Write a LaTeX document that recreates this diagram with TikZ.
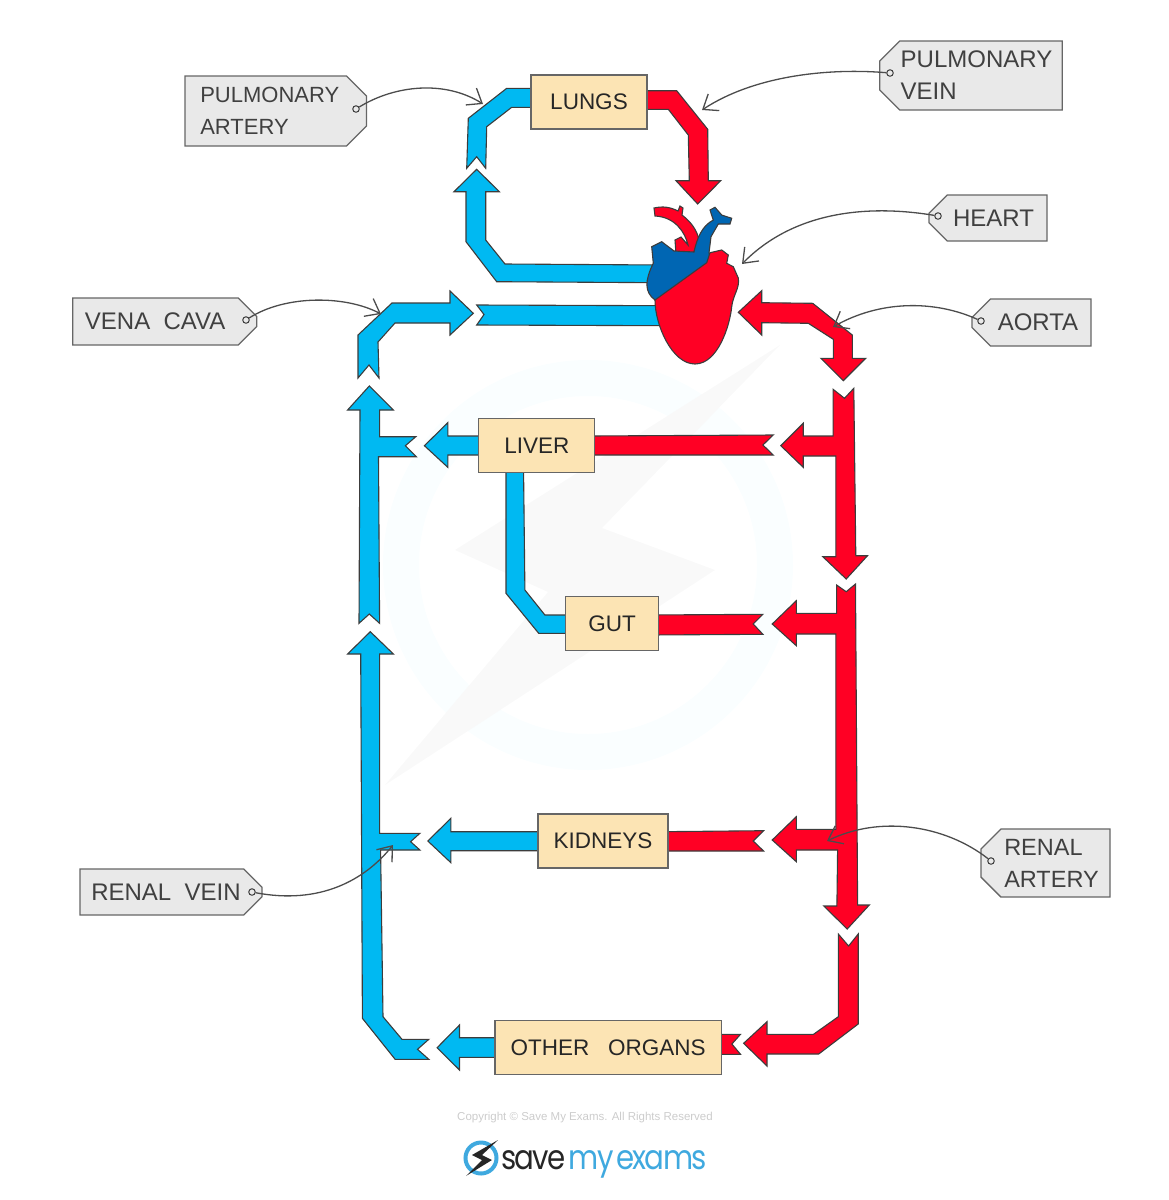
\documentclass[tikz,border=0pt]{standalone}
\usepackage{fontspec}
\setmainfont{Liberation Sans}
\newfontfamily\logofont{Poppins}
\usetikzlibrary{arrows.meta,shapes.misc}
\definecolor{vesselblue}{HTML}{00B9F2}
\definecolor{vesselred}{HTML}{FF0024}
\definecolor{heartblue}{HTML}{0066B3}
\definecolor{organfill}{HTML}{FCE4B4}
\definecolor{tagfill}{HTML}{E9E9E9}
\definecolor{inkgrey}{HTML}{3C3C3C}
\definecolor{logoblue}{HTML}{3FA9DF}
\tikzset{
    vessel/.style={draw=inkgrey, line width=1.1pt, line join=miter},
    bluevessel/.style={vessel, fill=vesselblue},
    redvessel/.style={vessel, fill=vesselred},
    organ/.style={draw=black!60, line width=1.3pt, fill=organfill, inner sep=0pt,
            font=\fontsize{22.5}{32}\selectfont, text=black!85},
    tagbox/.style={chamfered rectangle, chamfered rectangle xsep=10pt, chamfered rectangle ysep=10pt,
            draw=black!60, line width=1.3pt, fill=tagfill, inner sep=0pt, align=left,
            font=\fontsize{24}{32}\selectfont, text=black!75},
    tagL/.style={tagbox, chamfered rectangle corners={north west,south west}},
    tagR/.style={tagbox, chamfered rectangle corners={north east,south east}},
    hole/.style={circle, draw=inkgrey, line width=1pt, minimum size=6.5pt, inner sep=0pt},
    pointer/.style={draw=black!70, line width=1.3pt, -{Straight Barb[length=13pt,width=20pt,line width=1.3pt]}}
}
\begin{document}
\begin{tikzpicture}[x=1pt,y=-1pt]
    \useasboundingbox (0,0) rectangle (1168,1200);
    % Watermark
    \draw[line width=36pt, color=blue!20!cyan!2] (588,565) circle (187);
    \fill[black!2.5] (780,345) -- (602,528) -- (715,570) -- (385,785) -- (548,592) -- (455,550) -- cycle;
    % Lungs loop
    \draw[bluevessel] (531,88.3) -- (506.7,88.3) -- (468.3,118.3) -- (466.7,168.3) -- (476.7,156.7) -- (485.7,168.3)
        -- (486.7,126.7) -- (511.7,107.3) -- (531,107.3) -- cycle;
    \draw[bluevessel] (476.7,169.3) -- (499.3,191.7) -- (485.7,191.7) -- (485.7,240) -- (505,264) -- (660,265)
        -- (660,282.7) -- (496.7,281.7) -- (466,241.7) -- (466,191.7) -- (454,191.7) -- cycle;
    \draw[redvessel] (647.3,90.7) -- (676.7,90.7) -- (707.7,129.3) -- (708.3,180.7) -- (720.7,180.7) -- (697.7,204)
        -- (676,180.7) -- (689.3,180.7) -- (688.3,135) -- (668.3,109.3) -- (647.3,109.3) -- cycle;
    % Vena cava
    \draw[bluevessel] (476.7,305) -- (665,305.7) -- (665,325.7) -- (476.7,325) -- (484,314.5) -- cycle;
    \draw[bluevessel] (473.3,313.3) -- (450,335) -- (450,323) -- (395,323) -- (378,342) -- (379,378) -- (369,365)
        -- (358,378) -- (358,335) -- (392,303) -- (450,303) -- (450,291) -- cycle;
    % Aorta
    \draw[redvessel] (738.3,312.3) -- (761.7,290.7) -- (761.7,302.7) -- (812.7,303.3) -- (852.3,335) -- (852.3,358.3)
        -- (865.7,358.3) -- (843.3,380.7) -- (821,358.3) -- (833.3,358.3) -- (833.3,339.3) -- (808.3,323.3)
        -- (761.7,322.7) -- (761.7,335) -- cycle;
    % Heart
    \draw[redvessel] (654,208) .. controls (663,206) and (670,207) .. (678,211) -- (680,206) -- (683,208) -- (682,215)
        .. controls (691,222) and (697,230) .. (699,240) -- (693,254) -- (676,254) -- (675,240) -- (681,237) -- (688,245)
        .. controls (685,232) and (675,217) .. (655,216) -- cycle;
    \draw[vessel, fill=heartblue] (655,300) .. controls (644,292) and (645,280) .. (653.3,263.3) -- (651.7,246.7)
        -- (661.7,241.7) -- (674,251) -- (694,252) .. controls (697,238) and (702,226) .. (713.3,220) -- (710,210)
        -- (715,207.3) -- (721.7,215) -- (731.7,218.3) -- (730,224) -- (718.3,224) -- (711,236.7) -- (709,253)
        -- (712,265) -- (670,300) -- cycle;
    \draw[redvessel] (655,300) .. controls (655,325) and (672,364) .. (695,364) .. controls (718,364) and (730,325) .. (731.7,306.7)
        .. controls (733,295) and (740,288) .. (738.3,278) -- (733.3,266.7) -- (726.7,263.3) -- (728.3,255) -- (721.7,250)
        -- (710,252.7) -- (706.7,262.7) -- cycle;
    % Descending trunk
    \draw[redvessel] (833.1,389.3) -- (844.5,398.3) -- (853.8,388.3) -- (855.8,555.7) -- (867.5,555.7) -- (846.2,579)
        -- (822.8,556.7) -- (835.9,556.7) -- (835.9,456) -- (803.2,456) -- (803.2,467.3) -- (780.8,445.7)
        -- (803.2,423.3) -- (803.2,436) -- (833.1,436) -- cycle;
    \draw[redvessel] (836.6,585) -- (846.2,591.7) -- (855.5,584) -- (857.6,905) -- (869.3,905) -- (847.2,929)
        -- (823.8,906) -- (836.9,906) -- (837.6,850) -- (796.3,850) -- (796.3,861.7) -- (772.2,840) -- (796.3,816.7)
        -- (796.3,829.3) -- (835.9,829.3) -- (835.9,634) -- (796.3,634) -- (796.3,645.7) -- (772.2,624)
        -- (796.3,600.7) -- (796.3,613.3) -- (836.6,613.3) -- cycle;
    \draw[redvessel] (838.3,934) -- (848.6,946) -- (858.2,934) -- (858.2,1024) -- (818.7,1054) -- (767,1054)
        -- (767,1066) -- (743.6,1043.3) -- (767,1021.7) -- (767,1034.3) -- (813.5,1034.3) -- (838.3,1016.7) -- cycle;
    % Ascending trunk
    \draw[bluevessel] (369.3,386) -- (393.4,410) -- (379.6,410) -- (379.6,436.7) -- (415.8,436.7) -- (405.4,445.7)
        -- (416.4,456.7) -- (378.5,456.7) -- (379.6,623.3) -- (369.3,614) -- (359,623.3) -- (360,410) -- (347.6,410) -- cycle;
    \draw[bluevessel] (370.3,631.7) -- (393.4,654) -- (379.6,654) -- (379.6,833.3) -- (419.9,833.3) -- (410.6,841.7)
        -- (419.9,850) -- (380.6,850) -- (383,1016.7) -- (402,1039.3) -- (428.8,1039.3) -- (417.5,1049.3)
        -- (428.8,1059.3) -- (395.1,1059.3) -- (362.4,1018.3) -- (360.7,654) -- (347.6,654) -- cycle;
    % Organ branches
    \draw[redvessel] (590,436) -- (773.2,435) -- (762.9,445) -- (773.2,455) -- (590,455) -- cycle;
    \draw[bluevessel] (485,436) -- (447.8,436) -- (447.8,422.7) -- (424.4,445.7) -- (447.8,467.3) -- (447.8,455) -- (485,455) -- cycle;
    \draw[bluevessel] (506,465) -- (506,593.3) -- (538.7,633.3) -- (570,633.3) -- (570,615) -- (544.9,615)
        -- (524.9,590) -- (523.5,465) -- cycle;
    \draw[redvessel] (650,615) -- (762.9,614.3) -- (753.2,624) -- (762.9,634.3) -- (650,635) -- cycle;
    \draw[redvessel] (660,831.7) -- (763.6,830.7) -- (753.2,841) -- (763.6,851) -- (660,851) -- cycle;
    \draw[bluevessel] (545,831.7) -- (450.9,831.7) -- (450.9,818.3) -- (427.8,841) -- (450.9,862.7) -- (450.9,850.7) -- (545,850.7) -- cycle;
    \draw[redvessel] (715,1034.3) -- (740.5,1034.3) -- (731.9,1044) -- (740.5,1054.3) -- (715,1054.3) -- cycle;
    \draw[bluevessel] (500,1037.7) -- (459.5,1037.7) -- (459.5,1025) -- (437.1,1047.7) -- (459.5,1070) -- (459.5,1057.3) -- (500,1057.3) -- cycle;
    % Organs
    \node[organ, minimum width=116pt, minimum height=54pt] (lungs) at (589,102) {LUNGS};
    \node[organ, minimum width=116pt, minimum height=54pt] (liver) at (536.8,445.5) {LIVER};
    \node[organ, minimum width=93pt, minimum height=53.5pt] (gut) at (612,623.5) {GUT};
    \node[organ, minimum width=130pt, minimum height=54pt] (kidneys) at (603,841) {KIDNEYS};
    \node[organ, minimum width=226.5pt, minimum height=53.5pt] (others) at (608.2,1047.5) {OTHER\ \ \ ORGANS};
    % Labels
    \node[tagR, font=\fontsize{22}{32}\selectfont, minimum width=181.5pt, minimum height=70pt] (pulmartery) at (275.8,111) {PULMONARY\rule{12pt}{0pt}\\ARTERY};
    \node[tagL, minimum width=182pt, minimum height=69pt] (pulmvein) at (971,75.5) {\rule{11pt}{0pt}PULMONARY\\\rule{11pt}{0pt}VEIN};
    \node[tagL, minimum width=118pt, minimum height=46pt] (hearttag) at (988,218) {\rule{11pt}{0pt}HEART};
    \node[tagL, minimum width=119pt, minimum height=47pt] (aortatag) at (1031.5,322.5) {\rule{13pt}{0pt}AORTA};
    \node[tagL, font=\fontsize{23.5}{32}\selectfont, minimum width=129pt, minimum height=68pt] (renalartery) at (1045.5,863) {\rule{12pt}{0pt}RENAL\\\rule{12pt}{0pt}ARTERY};
    \node[tagR, minimum width=184pt, minimum height=47pt] (venacava) at (164.7,321.5) {VENA\ \ CAVA\rule{19pt}{0pt}};
    \node[tagR, minimum width=182pt, minimum height=46pt] (renalvein) at (171,892) {RENAL\ \ VEIN\rule{10pt}{0pt}};
    % Pointers
    \node[hole] (holepa) at (356,109) {};
    \node[hole] (holepv) at (890,73) {};
    \node[hole] (holeh) at (938,216) {};
    \node[hole] (holea) at (981,321) {};
    \node[hole] (holera) at (991,861) {};
    \node[hole] (holevc) at (246,320) {};
    \node[hole] (holerv) at (252,892) {};
    \coordinate (endpa) at (483,104);
    \coordinate (endpv) at (702,110);
    \coordinate (endh) at (742,264);
    \coordinate (enda) at (833,327);
    \coordinate (endra) at (827,841);
    \coordinate (endvc) at (381,314);
    \coordinate (endrv) at (393,845);
    \draw[pointer] (holepa) .. controls (395,85) and (445,80) .. (endpa);
    \draw[pointer] (holepv) .. controls (830,68) and (755,75) .. (endpv);
    \draw[pointer] (holeh) .. controls (860,203) and (790,215) .. (endh);
    \draw[pointer] (holea) .. controls (935,300) and (880,300) .. (enda);
    \draw[pointer] (holera) .. controls (945,825) and (880,815) .. (endra);
    \draw[pointer] (holevc) .. controls (285,295) and (345,295) .. (endvc);
    \draw[pointer] (holerv) .. controls (320,905) and (365,880) .. (endrv);
    % Footer
    \node[font=\fontsize{11.5}{13}\selectfont, text=black!20, inner sep=0pt] (copyright) at (585,1118) {Copyright © Save My Exams. All Rights Reserved};
    \draw[line width=4pt, color=logoblue] (481,1158) circle (15.5);
    \fill[black!85] (498,1140) -- (472,1155) -- (482,1160) -- (466,1176) -- (492,1160) -- (482,1155) -- cycle;
    \node[font=\logofont\fontsize{34}{36}\selectfont, inner sep=0pt, anchor=base west] (logotext) at (501,1169)
        {\scalebox{0.86}[1]{\addfontfeature{LetterSpace=-6}\textcolor{black!85}{save}\hspace{4pt}\textcolor{logoblue}{my\hspace{3pt}exams}}};
\end{tikzpicture}
\end{document}
